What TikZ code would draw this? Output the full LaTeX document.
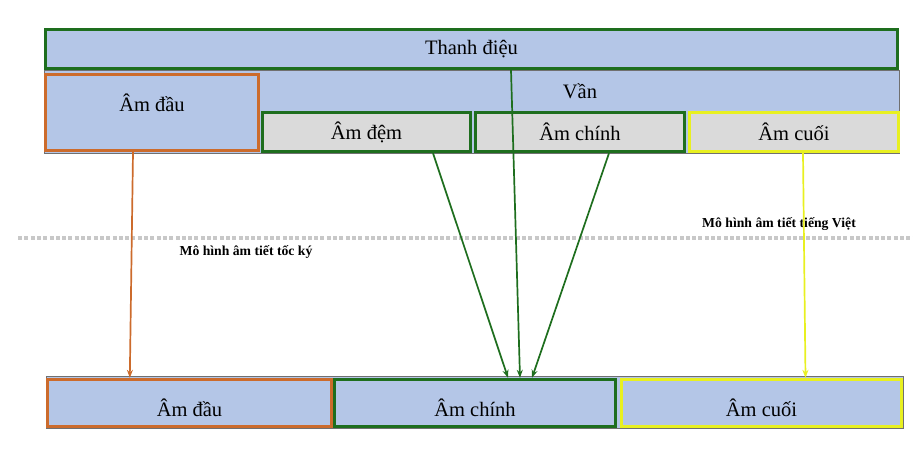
\documentclass[tikz,border=0pt]{standalone}
\usepackage{fontspec}
\setmainfont{Liberation Serif}
\usetikzlibrary{calc,arrows.meta}
\definecolor{boxblue}{HTML}{B4C6E7}
\definecolor{boxgray}{HTML}{DADADA}
\definecolor{dkgreen}{HTML}{1E6E1E}
\definecolor{orng}{HTML}{CC6B2C}
\definecolor{yell}{HTML}{E8F020}
\definecolor{dotgray}{HTML}{C8C8C8}
\definecolor{shadow}{HTML}{707070}
\tikzset{
  cell/.style={rectangle, inner sep=0pt, line width=3.4pt, font=\fontsize{20.5}{24}\selectfont},
  bluecell/.style={cell, fill=boxblue},
  graycell/.style={cell, fill=boxgray},
  conn/.style={line width=1.7pt, -{Stealth[length=8pt,width=6pt]}},
  caption/.style={font=\bfseries\fontsize{13.7}{16}\selectfont, inner sep=0pt},
  plain/.style={inner sep=0pt, font=\fontsize{20.5}{24}\selectfont},
  lowtext/.style={label={[plain, yshift=-5pt]center:#1}}
}
\begin{document}
\begin{tikzpicture}[x=1pt,y=-1pt]
\useasboundingbox (0,0) rectangle (913,458);
% backgrounds
\node (vanbg) [rectangle, fill=boxblue, draw=shadow, line width=0.8pt, minimum width=855pt, minimum height=83pt, inner sep=0pt] at (471.5,111.5) {};
\node (botbg) [rectangle, fill=boxblue, draw=shadow, line width=0.8pt, minimum width=857pt, minimum height=52pt, inner sep=0pt] at (474.5,402) {};
% separator
\coordinate (sepL) at (18,238);
\coordinate (sepR) at (913,238);
\draw[dotgray, line width=4pt, dash pattern=on 4pt off 2.3pt] (sepL) -- (sepR);
% top model
\node (thanh) [bluecell, draw=dkgreen, minimum width=852pt, minimum height=39pt] at (471.5,49) {Thanh điệu};
\node (van) [plain] at (580,91) {Vần};
\node (dau1) [bluecell, draw=orng, minimum width=213pt, minimum height=76pt] at (152,112.5) {};
\node (dau1t) [plain] at (152,103) {Âm đầu};
\node (dem) [graycell, draw=dkgreen, minimum width=208pt, minimum height=39pt] at (366.5,132) {Âm đệm};
\node (chinh) [graycell, draw=dkgreen, minimum width=209pt, minimum height=39pt] at (580,132) {Âm chính};
\node (cuoi) [graycell, draw=yell, minimum width=209pt, minimum height=39pt] at (794,132) {Âm cuối};
% bottom model
\node (dau2) [bluecell, draw=orng, minimum width=284pt, minimum height=47pt, lowtext={Âm đầu}] at (189.5,403) {};
\node (chinh2) [bluecell, draw=dkgreen, minimum width=281pt, minimum height=47pt, lowtext={Âm chính}] at (475,403) {};
\node (cuoi2) [bluecell, draw=yell, minimum width=280pt, minimum height=47pt, lowtext={Âm cuối}] at (761.5,403) {};
% captions
\node (capA) [caption] at (246,252) {Mô hình âm tiết tốc ký};
\node (capB) [caption] at (779,224) {Mô hình âm tiết tiếng Việt};
% connectors
\draw[conn, orng] ($(dau1.south)+(-19,0)$) -- ($(dau2.north west)+(84,0)$);
\draw[conn, dkgreen] ($(dem.south)+(66.5,0)$) -- ($(chinh2.north)+(33,0)$);
\draw[conn, dkgreen] ($(thanh.south)+(39.5,0)$) -- ($(chinh2.north)+(45,0)$);
\draw[conn, dkgreen] ($(chinh.south)+(29,0)$) -- ($(chinh2.north)+(57,0)$);
\draw[conn, yell] ($(cuoi.south)+(9,0)$) -- ($(cuoi2.north)+(44,0)$);
\end{tikzpicture}
\end{document}
